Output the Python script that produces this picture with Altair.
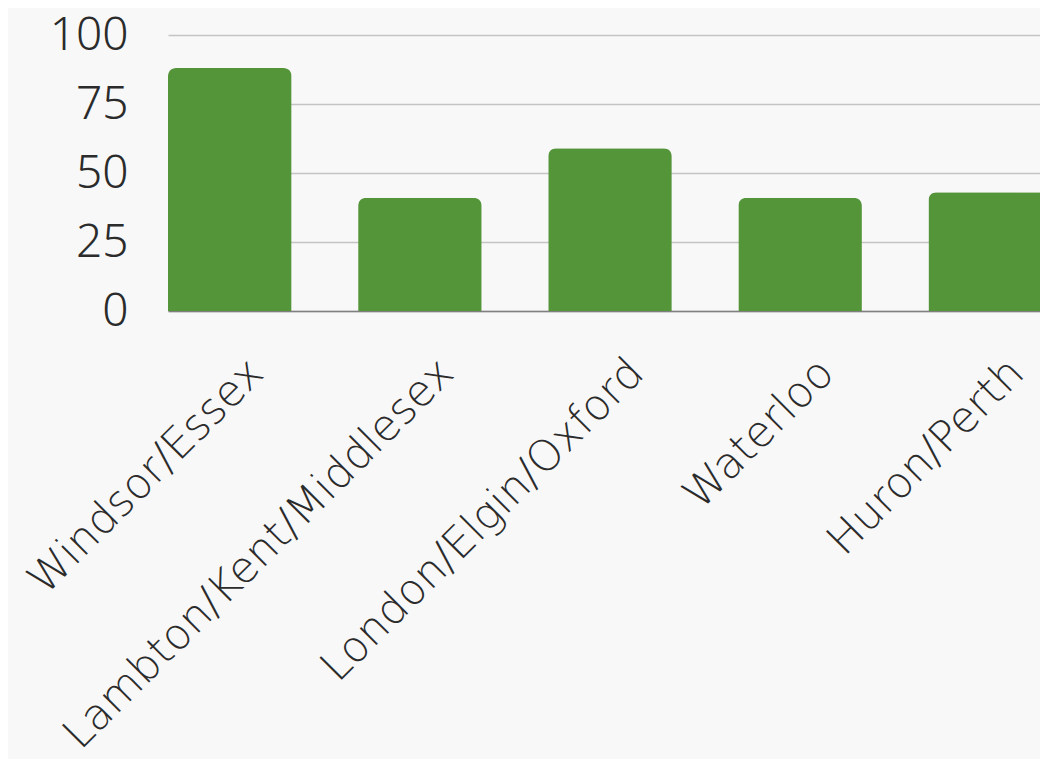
import altair as alt
import pandas as pd

regions = ["Windsor/Essex", "Lambton/Kent/Middlesex", "London/Elgin/Oxford", "Waterloo", "Huron/Perth"]
values = [88, 41, 59, 41, 43]

df = pd.DataFrame({"region": regions, "value": values})

TEXT = "#2b2b2b"

chart = alt.Chart(df).mark_bar(
    color="#54953a",
    cornerRadiusTopLeft=8,
    cornerRadiusTopRight=8,
).encode(
    x=alt.X("region:N", sort=regions, title=None,
            scale=alt.Scale(paddingInner=0.35, paddingOuter=0),
            axis=alt.Axis(labelAngle=-45, labelFontSize=43, labelFont="DejaVu Sans",
                          labelFontWeight=200, labelColor=TEXT,
                          ticks=False, domainColor="#808080", domainWidth=1.5,
                          labelPadding=40, labelOffset=12, grid=False, labelLimit=0)),
    y=alt.Y("value:Q", title=None,
            scale=alt.Scale(domain=[0, 100]),
            axis=alt.Axis(values=[0, 25, 50, 75, 100], labelFontSize=46,
                          labelFont="Noto Sans", labelFontWeight=300, labelColor=TEXT,
                          ticks=False, domain=False, labelPadding=40,
                          gridColor="#c4c4c4", gridWidth=1.5)),
).properties(
    width=884,
    height=276,
    background="#f8f8f8",
    autosize=alt.AutoSizeParams(type="none"),
    padding={"left": 160, "top": 27, "right": -12, "bottom": 448},
).configure_view(stroke=None)

chart.save("out.html", embed_options={"renderer": "svg", "actions": False})
